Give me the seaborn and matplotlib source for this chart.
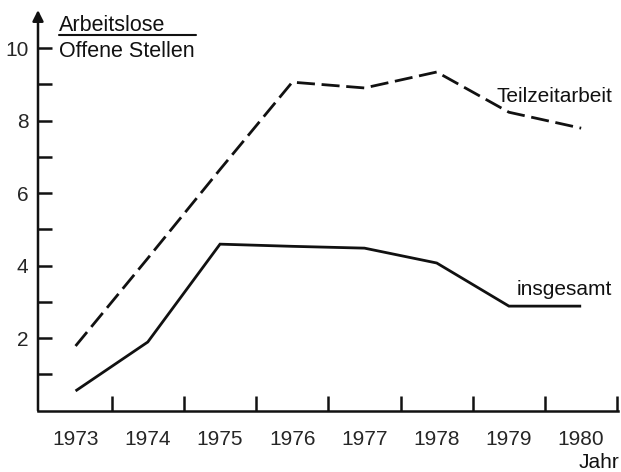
import numpy as np
import pandas as pd
import matplotlib
matplotlib.use("Agg")
import matplotlib.pyplot as plt
import matplotlib.transforms as mtransforms
import seaborn as sns

# Daten
jahre = [1973, 1974, 1975, 1976, 1977, 1978, 1979, 1980]
insgesamt = [0.54, 1.89, 4.59, 4.53, 4.48, 4.07, 2.88, 2.88]
teilzeit = [1.78, 4.2, 6.65, 9.06, 8.9, 9.34, 8.23, 7.79]
y_ticks = [1, 2, 3, 4, 5, 6, 7, 8, 9, 10]
y_labels = ["", "2", "", "4", "", "6", "", "8", "", "10"]

df = pd.DataFrame({"Jahr": jahre + jahre,
                   "Wert": insgesamt + teilzeit,
                   "Reihe": ["insgesamt"] * 8 + ["Teilzeitarbeit"] * 8})

sns.set_style("white")
plt.rcParams["font.family"] = ["Liberation Sans", "DejaVu Sans"]

fig = plt.figure(figsize=(6.21, 4.72), dpi=100)
ax = fig.add_axes([38 / 621, 61.5 / 472, 580 / 621, 403 / 472])

sns.lineplot(data=df, x="Jahr", y="Wert", hue="Reihe", style="Reihe",
             palette=["#111111", "#111111"], dashes=[(None, None), (6.5, 2.4)],
             linewidth=2.0, legend=False, ax=ax)
for line in ax.get_lines():
    line.set_solid_capstyle("butt")
    line.set_solid_joinstyle("miter")

ax.set_xlim(1972.48, 1980.51)
ax.set_ylim(0, 11.12)

# Achsen
for s in ["top", "right", "left"]:
    ax.spines[s].set_visible(False)
ax.spines["bottom"].set_linewidth(1.8)
ax.spines["bottom"].set_color("#111111")
ax.annotate("", xy=(0, 11.05), xycoords=("axes fraction", "data"),
            xytext=(0, 0), textcoords=("axes fraction", "data"),
            arrowprops=dict(arrowstyle="-|>", lw=1.8, color="#111111",
                            mutation_scale=16, shrinkA=0, shrinkB=0))

ax.set_yticks(y_ticks)
ax.set_yticklabels(y_labels)
ax.tick_params(axis="y", left=True, direction="in", length=10, width=1.8,
               color="#111111", pad=7, labelsize=15)

ax.set_xticks(jahre)
ax.set_xticklabels([str(j) for j in jahre])
ax.set_xticks(np.array(jahre) + 0.5, minor=True)
ax.tick_params(axis="x", which="major", bottom=True, length=0, pad=14,
               labelsize=15)
ax.tick_params(axis="x", which="minor", bottom=True, direction="in",
               length=11, width=1.8, color="#111111")
ax.set_xlabel("")
ax.set_ylabel("")

# Beschriftungen
blend = mtransforms.blended_transform_factory(ax.transAxes, ax.transData)
ax.text(0.036, 10.47, "Arbeitslose", transform=blend, fontsize=15.5,
        va="baseline", ha="left", color="#111111")
ax.plot([0.036, 0.272], [10.36, 10.36], transform=blend, color="#111111",
        lw=1.5, clip_on=False)
ax.text(0.036, 9.75, "Offene Stellen", transform=blend, fontsize=15.5,
        va="baseline", ha="left", color="#111111")

ax.text(1980.43, 8.51, "Teilzeitarbeit", fontsize=15, ha="right",
        va="baseline", color="#111111")
ax.text(1980.43, 3.19, "insgesamt", fontsize=15, ha="right",
        va="baseline", color="#111111")
fig.text(619 / 621, 4 / 472, "Jahr", fontsize=15, ha="right",
         va="baseline", color="#111111")

fig.savefig("out.png", dpi=100, facecolor="white")
